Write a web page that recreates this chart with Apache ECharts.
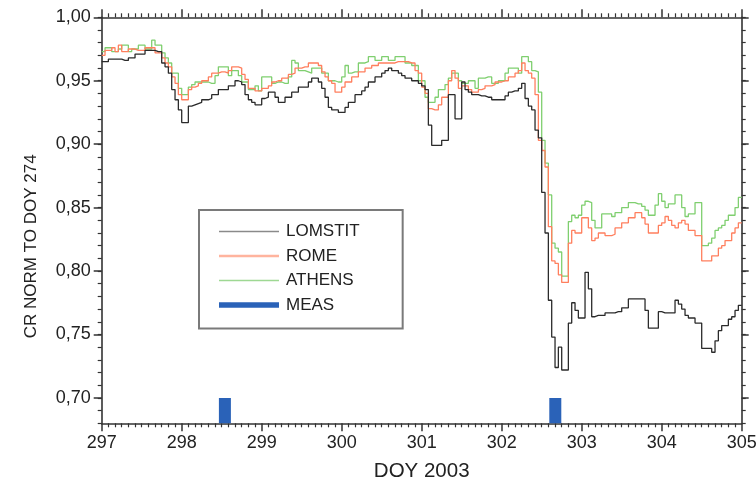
<!DOCTYPE html>
<html>
<head>
<meta charset="utf-8">
<title>CR NORM TO DOY 274</title>
<script src="https://cdn.jsdelivr.net/npm/echarts@6/dist/echarts.min.js"></script>
<style>
  html, body { margin: 0; padding: 0; background: #fff; }
  #chart { width: 756px; height: 483px; }
</style>
</head>
<body>
<div id="chart"></div>
<script>
// Hourly normalised count rates, starting at DOY 297.0 (one value per hour)
const startDay = 297;
const stepsPerDay = 24;

const lomstit = [
  0.965, 0.965, 0.967, 0.967, 0.967, 0.967, 0.966, 0.966, 0.968, 0.968,
  0.971, 0.971, 0.971, 0.974, 0.974, 0.974, 0.973, 0.973, 0.964, 0.961,
  0.956, 0.943, 0.935, 0.927, 0.917, 0.917, 0.930, 0.931, 0.932, 0.933,
  0.935, 0.935, 0.936, 0.939, 0.939, 0.943, 0.943, 0.943, 0.946, 0.946,
  0.950, 0.949, 0.947, 0.939, 0.935, 0.933, 0.931, 0.931,
  0.936, 0.937, 0.941, 0.941, 0.937, 0.933, 0.933, 0.937, 0.937, 0.941,
  0.941, 0.945, 0.945, 0.945, 0.949, 0.952, 0.952, 0.949, 0.944, 0.937,
  0.929, 0.927, 0.927, 0.925, 0.925, 0.929, 0.933, 0.933, 0.939, 0.939,
  0.942, 0.945, 0.949, 0.949, 0.953, 0.953, 0.956, 0.958, 0.960, 0.958,
  0.958, 0.956, 0.954, 0.952, 0.952, 0.950, 0.950, 0.948,
  0.946, 0.943, 0.915, 0.899, 0.899, 0.899, 0.903, 0.903, 0.939, 0.939,
  0.920, 0.920, 0.949, 0.943, 0.941, 0.939, 0.939, 0.938, 0.938, 0.937,
  0.937, 0.935, 0.935, 0.935,
  0.935, 0.938, 0.941, 0.942, 0.942, 0.944, 0.948, 0.936, 0.930, 0.927,
  0.911, 0.905, 0.862, 0.830, 0.777, 0.748, 0.724, 0.740, 0.722, 0.722,
  0.759, 0.775, 0.769, 0.763,
  0.763, 0.799, 0.786, 0.764, 0.765, 0.765, 0.765, 0.767, 0.767, 0.767,
  0.768, 0.768, 0.771, 0.771, 0.778, 0.778, 0.778, 0.778, 0.778, 0.769,
  0.755, 0.755, 0.755, 0.768,
  0.767, 0.767, 0.767, 0.767, 0.777, 0.774, 0.770, 0.765, 0.763, 0.763,
  0.759, 0.759, 0.739, 0.739, 0.739, 0.736, 0.745, 0.753, 0.757, 0.757,
  0.762, 0.764, 0.769, 0.773
];

const rome = [
  0.970, 0.974, 0.974, 0.976, 0.973, 0.978, 0.973, 0.973, 0.975, 0.975,
  0.974, 0.974, 0.974, 0.976, 0.976, 0.976, 0.972, 0.972, 0.968, 0.964,
  0.961, 0.953, 0.948, 0.939, 0.935, 0.935, 0.943, 0.945, 0.946, 0.948,
  0.950, 0.950, 0.953, 0.956, 0.956, 0.957, 0.957, 0.956, 0.958, 0.961,
  0.961, 0.960, 0.955, 0.951, 0.944, 0.944, 0.942, 0.942,
  0.944, 0.944, 0.946, 0.949, 0.950, 0.950, 0.952, 0.952, 0.955, 0.956,
  0.960, 0.960, 0.961, 0.961, 0.964, 0.964, 0.964, 0.962, 0.957, 0.953,
  0.950, 0.948, 0.941, 0.941, 0.945, 0.949, 0.949, 0.953, 0.953, 0.957,
  0.957, 0.960, 0.960, 0.962, 0.962, 0.964, 0.964, 0.964, 0.964, 0.964,
  0.965, 0.965, 0.965, 0.965, 0.964, 0.964, 0.958, 0.956,
  0.945, 0.940, 0.928, 0.927, 0.927, 0.931, 0.937, 0.937, 0.950, 0.958,
  0.952, 0.944, 0.946, 0.946, 0.943, 0.941, 0.941, 0.943, 0.944, 0.946,
  0.946, 0.947, 0.949, 0.949,
  0.950, 0.950, 0.953, 0.953, 0.956, 0.958, 0.964, 0.958, 0.956, 0.952,
  0.939, 0.903, 0.895, 0.882, 0.835, 0.808, 0.806, 0.797, 0.791, 0.791,
  0.822, 0.832, 0.830, 0.830,
  0.842, 0.842, 0.834, 0.824, 0.826, 0.830, 0.830, 0.828, 0.828, 0.829,
  0.834, 0.834, 0.838, 0.838, 0.842, 0.842, 0.846, 0.846, 0.842, 0.837,
  0.830, 0.830, 0.830, 0.836,
  0.838, 0.843, 0.840, 0.836, 0.834, 0.838, 0.840, 0.837, 0.832, 0.832,
  0.828, 0.828, 0.808, 0.808, 0.808, 0.812, 0.812, 0.818, 0.820, 0.824,
  0.824, 0.830, 0.834, 0.838
];

const athens = [
  0.973, 0.976, 0.976, 0.973, 0.973, 0.975, 0.978, 0.978, 0.973, 0.975,
  0.975, 0.978, 0.978, 0.975, 0.975, 0.982, 0.978, 0.978, 0.972, 0.968,
  0.964, 0.956, 0.956, 0.944, 0.939, 0.939, 0.945, 0.947, 0.949, 0.949,
  0.949, 0.949, 0.948, 0.948, 0.954, 0.961, 0.961, 0.961, 0.954, 0.958,
  0.958, 0.954, 0.949, 0.949, 0.943, 0.943, 0.946, 0.942,
  0.953, 0.953, 0.953, 0.948, 0.949, 0.949, 0.948, 0.948, 0.953, 0.966,
  0.964, 0.958, 0.958, 0.957, 0.956, 0.960, 0.960, 0.960, 0.956, 0.956,
  0.950, 0.950, 0.949, 0.949, 0.953, 0.962, 0.956, 0.957, 0.957, 0.964,
  0.964, 0.965, 0.969, 0.969, 0.966, 0.966, 0.969, 0.969, 0.966, 0.966,
  0.969, 0.969, 0.969, 0.964, 0.964, 0.962, 0.962, 0.950,
  0.950, 0.937, 0.933, 0.933, 0.937, 0.943, 0.943, 0.947, 0.952, 0.956,
  0.956, 0.950, 0.948, 0.948, 0.950, 0.950, 0.944, 0.952, 0.952, 0.953,
  0.953, 0.948, 0.948, 0.950,
  0.950, 0.956, 0.960, 0.960, 0.960, 0.956, 0.969, 0.969, 0.965, 0.958,
  0.957, 0.941, 0.903, 0.885, 0.860, 0.822, 0.818, 0.815, 0.796, 0.796,
  0.839, 0.844, 0.842, 0.844,
  0.852, 0.855, 0.854, 0.840, 0.834, 0.834, 0.845, 0.845, 0.845, 0.843,
  0.846, 0.846, 0.850, 0.850, 0.854, 0.854, 0.853, 0.853, 0.851, 0.848,
  0.844, 0.844, 0.852, 0.861,
  0.855, 0.850, 0.853, 0.853, 0.860, 0.860, 0.850, 0.843, 0.845, 0.845,
  0.854, 0.854, 0.820, 0.820, 0.822, 0.826, 0.832, 0.834, 0.836, 0.840,
  0.844, 0.844, 0.850, 0.858
];

// Measurement intervals (DOY) marked at the bottom of the plot
const measDays = [298.54, 302.67];
const measLevel = 0.70;

// Axis ticks
const xTicks = [297, 298, 299, 300, 301, 302, 303, 304, 305];
const yTicks = [0.70, 0.75, 0.80, 0.85, 0.90, 0.95, 1.00];
const yMin = 0.68;
const yMax = 1.00;

// Turn an hourly array into step-line points; the last value is held to the end.
function toSteps(values) {
  const pts = values.map((v, i) => [startDay + i / stepsPerDay, v]);
  pts.push([startDay + values.length / stepsPerDay, values[values.length - 1]]);
  return pts;
}

const FONT = '"Liberation Sans", Arial, sans-serif';
const AXIS_COLOR = '#333';
const commaFmt = v => v.toFixed(2).replace('.', ',');

function stepSeries(name, values, color, z) {
  return {
    name: name,
    type: 'line',
    step: 'end',
    symbol: 'none',
    data: toSteps(values),
    lineStyle: { color: color, width: 1.3 },
    itemStyle: { color: color },
    z: z,
    animation: false
  };
}

const measSeries = measDays.map(d => ({
  name: 'MEAS',
  type: 'line',
  symbol: 'none',
  data: [[d, yMin], [d, measLevel]],
  lineStyle: { color: '#2a62b8', width: 12, cap: 'butt' },
  itemStyle: { color: '#2a62b8' },
  z: 5,
  animation: false
}));

// Legend keys drawn as flat bars of the given thickness
const keyIcon = h => 'path://M0,0H60V' + h + 'H0Z';

const chart = echarts.init(document.getElementById('chart'), null, { renderer: 'canvas' });

const lineCommon = { show: true, lineStyle: { color: AXIS_COLOR, width: 1.6 } };

chart.setOption({
  animation: false,
  backgroundColor: '#fff',
  grid: {
    left: 101.7, right: 14.3, top: 17.3, bottom: 59.7,
    containLabel: false,
    outerBoundsMode: 'none'
  },
  legend: {
    orient: 'vertical',
    left: 199,
    top: 210,
    padding: [13, 43, 15, 20],
    itemWidth: 60,
    itemHeight: 14,
    itemGap: 7.5,
    symbolKeepAspect: true,
    borderColor: '#7a7a7a',
    borderWidth: 2,
    backgroundColor: '#fff',
    textStyle: { fontFamily: FONT, fontSize: 17, color: '#222', lineHeight: 17, padding: [0, 0, 0, 2] },
    data: [
      { name: 'LOMSTIT', icon: keyIcon(1.5), itemStyle: { color: '#8a8a8a' } },
      { name: 'ROME', icon: keyIcon(2.5), itemStyle: { color: '#ffb49e' } },
      { name: 'ATHENS', icon: keyIcon(1.5), itemStyle: { color: '#9ed893' } },
      { name: 'MEAS', icon: keyIcon(5.5), itemStyle: { color: '#2a62b8' } }
    ]
  },
  xAxis: [
    {
      type: 'value',
      min: xTicks[0],
      max: xTicks[xTicks.length - 1],
      interval: 1,
      position: 'bottom',
      name: 'DOY 2003',
      nameLocation: 'middle',
      nameGap: 38,
      nameTextStyle: { fontFamily: FONT, fontSize: 20.5, color: '#222' },
      axisLine: lineCommon,
      axisTick: { show: true, length: 8, lineStyle: { color: AXIS_COLOR, width: 1.5 } },
      minorTick: { show: true, splitNumber: 12, length: 4, lineStyle: { color: AXIS_COLOR, width: 1.2 } },
      axisLabel: { fontFamily: FONT, fontSize: 18, color: '#222', margin: 11 },
      splitLine: { show: false }
    },
    {
      type: 'value',
      min: xTicks[0],
      max: xTicks[xTicks.length - 1],
      interval: 1,
      position: 'top',
      axisLine: lineCommon,
      axisTick: { show: true, length: 8, lineStyle: { color: AXIS_COLOR, width: 1.5 } },
      minorTick: { show: true, splitNumber: 12, length: 4, lineStyle: { color: AXIS_COLOR, width: 1.2 } },
      axisLabel: { show: false },
      splitLine: { show: false }
    }
  ],
  yAxis: [
    {
      type: 'value',
      min: yMin,
      max: yMax,
      position: 'left',
      name: 'CR NORM TO DOY 274',
      nameLocation: 'middle',
      nameGap: 62,
      nameTextStyle: { fontFamily: FONT, fontSize: 17, color: '#222', padding: [0, 52, 0, 0] },
      axisLine: lineCommon,
      axisTick: { show: true, length: 8, customValues: yTicks, lineStyle: { color: AXIS_COLOR, width: 1.5 } },
      axisLabel: { fontFamily: FONT, fontSize: 18, color: '#222', margin: 11, customValues: yTicks, formatter: commaFmt },
      splitLine: { show: false }
    },
    {
      // minor ticks every 0.01 on the left
      type: 'value',
      min: yMin,
      max: yMax,
      interval: 0.01,
      position: 'left',
      axisLine: { show: false },
      axisTick: { show: true, length: 4, lineStyle: { color: AXIS_COLOR, width: 1.2 } },
      axisLabel: { show: false },
      splitLine: { show: false }
    },
    {
      type: 'value',
      min: yMin,
      max: yMax,
      position: 'right',
      axisLine: lineCommon,
      axisTick: { show: true, length: 7, customValues: yTicks, lineStyle: { color: AXIS_COLOR, width: 1.5 } },
      axisLabel: { show: false },
      splitLine: { show: false }
    },
    {
      // minor ticks every 0.01 on the right
      type: 'value',
      min: yMin,
      max: yMax,
      interval: 0.01,
      position: 'right',
      axisLine: { show: false },
      axisTick: { show: true, length: 4, lineStyle: { color: AXIS_COLOR, width: 1.2 } },
      axisLabel: { show: false },
      splitLine: { show: false }
    }
  ],
  series: [
    stepSeries('ATHENS', athens, '#7fcf6f', 2),
    stepSeries('ROME', rome, '#ff7f5e', 3),
    stepSeries('LOMSTIT', lomstit, '#2b2b2b', 4)
  ].concat(measSeries)
});
</script>
</body>
</html>
